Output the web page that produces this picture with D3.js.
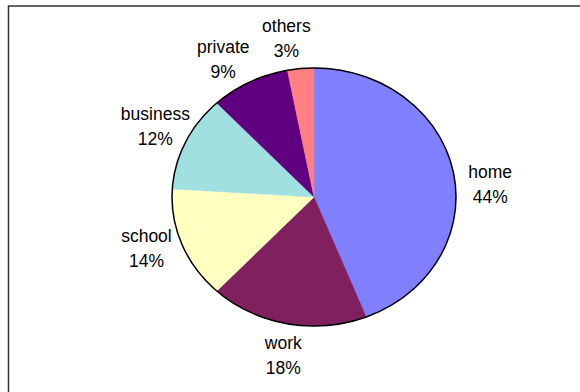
<!DOCTYPE html>
<html>
<head>
<meta charset="utf-8">
<script src="https://cdn.jsdelivr.net/npm/d3@7"></script>
<style>
  html, body { margin: 0; padding: 0; background: #fff; }
  svg { display: block; }
  text { font-family: "Liberation Sans", Arial, sans-serif; font-size: 17.5px; fill: #000; }
</style>
</head>
<body>
<svg id="chart" width="580" height="392"></svg>
<script>
// Trip purposes, share of all trips (percent), clockwise from 12 o'clock
const categories = ["home", "work", "school", "business", "private", "others"];
const shares = [44, 18, 14, 12, 9, 3];
const colors = ["#8080FF", "#80205F", "#FFFFC0", "#A0E0E0", "#600080", "#FF8080"];
// Angular nudge (degrees) applied to each outside label so they sit clear of neighbours
const labelNudge = [6.2, -0.8, 3, 1, -3.9, -3.6];

const svg = d3.select("#chart");

// Chart frame
svg.append("rect")
  .attr("x", 8.5).attr("y", 6)
  .attr("width", 700).attr("height", 500)
  .attr("fill", "none")
  .attr("stroke", "#333")
  .attr("stroke-width", 1.5);

const cx = 314, cy = 197, rx = 142, ry = 129;

const pie = d3.pie().sort(null).value(d => d)(shares);
const arc = d3.arc().innerRadius(0).outerRadius(rx);

// Slices drawn on a circle then squashed vertically into the plot ellipse
const g = svg.append("g")
  .attr("transform", `translate(${cx},${cy}) scale(1,${ry / rx})`);

g.selectAll("path")
  .data(pie)
  .join("path")
  .attr("d", arc)
  .attr("fill", (d, i) => colors[i])
  .attr("stroke", (d, i) => colors[i])
  .attr("stroke-width", 0.5);

// Outline
svg.append("ellipse")
  .attr("cx", cx).attr("cy", cy)
  .attr("rx", rx).attr("ry", ry)
  .attr("fill", "none")
  .attr("stroke", "#000")
  .attr("stroke-width", 1.5);

// Category + percentage labels outside the pie
const total = d3.sum(shares);
const pct = d3.format(".0%");
const labelR = 1.245;

const labels = svg.selectAll("g.label")
  .data(pie)
  .join("g")
  .attr("class", "label")
  .attr("transform", (d, i) => {
    const a = (d.startAngle + d.endAngle) / 2 + labelNudge[i] * Math.PI / 180;
    const x = cx + Math.sin(a) * rx * labelR;
    const y = cy - Math.cos(a) * ry * labelR;
    return `translate(${x},${y})`;
  });

labels.append("text")
  .attr("text-anchor", "middle")
  .attr("y", -6.5)
  .text((d, i) => categories[i]);

labels.append("text")
  .attr("text-anchor", "middle")
  .attr("y", 18.5)
  .text(d => pct(d.data / total));
</script>
</body>
</html>
